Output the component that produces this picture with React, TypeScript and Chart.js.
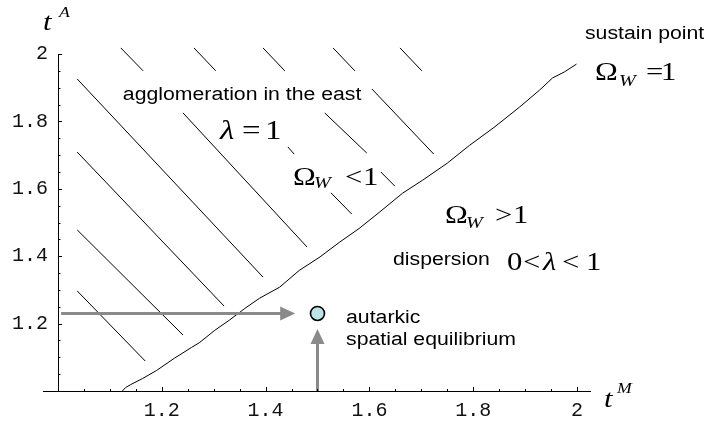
import React, { useEffect, useRef } from 'react';
import { Chart, registerables } from 'chart.js';
Chart.register(...registerables);

// ---------- data ----------
const xTickValues = [1.2, 1.4, 1.6, 1.8, 2];
const yTickValues = [1.2, 1.4, 1.6, 1.8, 2];
const minorTickValues = [1.05, 1.1, 1.15, 1.25, 1.3, 1.35, 1.45, 1.5, 1.55, 1.65, 1.7, 1.75, 1.85, 1.9, 1.95];

// sustain point curve (Omega_W = 1)
const sustainX = [1.124, 1.130, 1.140, 1.163, 1.190, 1.224, 1.257, 1.273, 1.302, 1.330, 1.360, 1.388, 1.427, 1.465, 1.505, 1.542, 1.580, 1.619, 1.664, 1.702, 1.750, 1.793, 1.840, 1.889, 1.928, 1.953, 1.976, 1.999];
const sustainY = [1.000, 1.010, 1.019, 1.037, 1.061, 1.097, 1.129, 1.144, 1.180, 1.210, 1.245, 1.275, 1.308, 1.358, 1.398, 1.441, 1.482, 1.530, 1.587, 1.625, 1.676, 1.729, 1.782, 1.842, 1.893, 1.929, 1.947, 1.970];

// hatching segments (start / end), pieces left visible around the labels
const hatchX1 = [1.037, 1.037, 1.037, 1.037, 1.121, 1.241, 1.262, 1.443, 1.526, 1.395, 1.514, 1.622, 1.530, 1.605, 1.659];
const hatchY1 = [1.926, 1.709, 1.478, 1.297, 2.018, 1.825, 2.018, 1.724, 1.588, 2.018, 1.825, 1.650, 2.018, 1.896, 2.018];
const hatchX2 = [1.395, 1.320, 1.241, 1.168, 1.164, 1.480, 1.304, 1.455, 1.566, 1.437, 1.595, 1.649, 1.572, 1.724, 1.701];
const hatchY2 = [1.338, 1.252, 1.166, 1.089, 1.950, 1.427, 1.950, 1.703, 1.525, 1.950, 1.706, 1.608, 1.950, 1.703, 1.950];

// autarkic spatial equilibrium
const equilibriumX = [1.5];
const equilibriumY = [1.23];
const arrowHFrom = [1.006, 1.23];
const arrowHTip = [1.457, 1.23];
const arrowVFrom = [1.5, 1.0];
const arrowVTip = [1.5, 1.184];

const SX = 1.18;
const SERIF = "'Liberation Serif', 'Times New Roman', serif";
const SANS = "'Liberation Sans', Arial, sans-serif";
const MONO = "'Liberation Mono', 'Courier New', monospace";

type Run = { t: string; f: string; dx: number; dy?: number };
type Label = { x: number; y: number; runs: Run[] };

const sans18 = `18px ${SANS}`;
const ser26 = `26px ${SERIF}`;
const ser26i = `italic 26px ${SERIF}`;
const ser28 = `28px ${SERIF}`;
const ser28i = `italic 28px ${SERIF}`;
const sub17 = `italic 17px ${SERIF}`;
const sup15 = `italic 15px ${SERIF}`;

const labels: Label[] = [
  { x: 1.125, y: 1.8635, runs: [{ t: 'agglomeration in the east', f: sans18, dx: 0 }] },
  { x: 2.0154, y: 2.0445, runs: [{ t: 'sustain point', f: sans18, dx: 0 }] },
  { x: 1.555, y: 1.2018, runs: [{ t: 'autarkic', f: sans18, dx: 0 }] },
  { x: 1.555, y: 1.1365, runs: [{ t: 'spatial equilibrium', f: sans18, dx: 0 }] },
  { x: 1.6455, y: 1.374, runs: [{ t: 'dispersion', f: sans18, dx: 0 }] },
  { x: 1.3121, y: 1.7478, runs: [
    { t: 'λ', f: ser28i, dx: 0 }, { t: '=', f: ser28, dx: 22 }, { t: '1', f: ser28, dx: 45 }] },
  { x: 1.4528, y: 1.6113, runs: [
    { t: 'Ω', f: ser26, dx: 0 }, { t: 'W', f: sub17, dx: 21, dy: 3 }, { t: '<', f: ser26, dx: 52 }, { t: '1', f: ser26, dx: 70 }] },
  { x: 1.7457, y: 1.4985, runs: [
    { t: 'Ω', f: ser26, dx: 0 }, { t: 'W', f: sub17, dx: 21, dy: 5 }, { t: '>', f: ser26, dx: 50 }, { t: '1', f: ser26, dx: 68 }] },
  { x: 2.0347, y: 1.9228, runs: [
    { t: 'Ω', f: ser26, dx: 0 }, { t: 'W', f: sub17, dx: 24, dy: 6 }, { t: '=', f: ser26, dx: 51 }, { t: '1', f: ser26, dx: 66 }] },
  { x: 1.8651, y: 1.359, runs: [
    { t: '0', f: ser26, dx: 0 }, { t: '<', f: ser26, dx: 16 }, { t: 'λ', f: ser26i, dx: 36 }, { t: '<', f: ser26, dx: 55 }, { t: '1', f: ser26, dx: 79 }] },
  { x: 0.971, y: 2.0712, runs: [{ t: 't', f: ser26i, dx: 0 }, { t: 'A', f: sup15, dx: 16, dy: -13 }] },
  { x: 2.052, y: 0.9525, runs: [{ t: 't', f: ser26i, dx: 0 }, { t: 'M', f: sup15, dx: 13, dy: -14 }] },
];

const xAxisStart = 0.971;

function hatchData() {
  const pts: { x: number; y: number | null }[] = [];
  for (let i = 0; i < hatchX1.length; i++) {
    pts.push({ x: hatchX1[i], y: hatchY1[i] });
    pts.push({ x: hatchX2[i], y: hatchY2[i] });
    pts.push({ x: hatchX2[i], y: null });
  }
  return pts;
}

const decorPlugin = {
  id: 'decor',
  afterDatasetsDraw(chart: any) {
    const ctx = chart.ctx as CanvasRenderingContext2D;
    const xs = chart.scales.x;
    const ys = chart.scales.y;
    const px = (v: number) => xs.getPixelForValue(v);
    const py = (v: number) => ys.getPixelForValue(v);
    ctx.save();
    // axes
    ctx.strokeStyle = '#000';
    ctx.lineWidth = 1;
    ctx.beginPath();
    ctx.moveTo(px(xAxisStart), Math.round(py(1)) + 0.5);
    ctx.lineTo(xs.right, Math.round(py(1)) + 0.5);
    ctx.moveTo(Math.round(px(1)) + 0.5, Math.round(py(1)) + 0.5);
    ctx.lineTo(Math.round(px(1)) + 0.5, py(2));
    // ticks (inside)
    for (const v of yTickValues) {
      const y = Math.round(py(v)) + 0.5;
      ctx.moveTo(px(1), y);
      ctx.lineTo(px(1) + 4, y);
    }
    for (const v of minorTickValues) {
      const y = Math.round(py(v)) + 0.5;
      ctx.moveTo(px(1), y);
      ctx.lineTo(px(1) + 2.5, y);
    }
    for (const v of xTickValues) {
      const x = Math.round(px(v)) + 0.5;
      ctx.moveTo(x, py(1));
      ctx.lineTo(x, py(1) - 4);
    }
    for (const v of minorTickValues) {
      const x = Math.round(px(v)) + 0.5;
      ctx.moveTo(x, py(1));
      ctx.lineTo(x, py(1) - 2);
    }
    ctx.stroke();

    // arrow heads
    ctx.fillStyle = '#8a8a8a';
    const hx = px(arrowHTip[0]), hy = py(arrowHTip[1]);
    ctx.beginPath();
    ctx.moveTo(hx, hy);
    ctx.lineTo(hx - 15, hy - 7);
    ctx.lineTo(hx - 15, hy + 7);
    ctx.closePath();
    ctx.fill();
    const vx = px(arrowVTip[0]), vy = py(arrowVTip[1]);
    ctx.beginPath();
    ctx.moveTo(vx, vy);
    ctx.lineTo(vx - 7, vy + 15);
    ctx.lineTo(vx + 7, vy + 15);
    ctx.closePath();
    ctx.fill();

    // text labels
    ctx.fillStyle = '#000';
    ctx.textAlign = 'left';
    ctx.textBaseline = 'alphabetic';
    for (const lab of labels) {
      const x0 = px(lab.x);
      const y0 = py(lab.y);
      for (const r of lab.runs) {
        ctx.save();
        ctx.font = r.f;
        ctx.translate(x0 + r.dx, y0 + (r.dy || 0));
        ctx.scale(SX, 1);
        ctx.fillText(r.t, 0, 0);
        ctx.restore();
      }
    }
    ctx.restore();
  },
};

export default function App() {
  const ref = useRef<HTMLCanvasElement | null>(null);
  useEffect(() => {
    if (!ref.current) return;
    const chart = new Chart(ref.current, {
      type: 'scatter',
      data: {
        datasets: [
          {
            label: 'equilibrium',
            data: equilibriumX.map((x, i) => ({ x, y: equilibriumY[i] })),
            pointRadius: 7,
            pointBackgroundColor: '#bfe2e6',
            pointBorderColor: '#000',
            pointBorderWidth: 1.6,
            showLine: false,
          } as any,
          {
            type: 'line',
            label: 'arrowH',
            data: [
              { x: arrowHFrom[0], y: arrowHFrom[1] },
              { x: arrowHTip[0] - 0.02, y: arrowHTip[1] },
            ],
            borderColor: '#8a8a8a',
            borderWidth: 3,
            pointRadius: 0,
          } as any,
          {
            type: 'line',
            label: 'arrowV',
            data: [
              { x: arrowVFrom[0], y: arrowVFrom[1] },
              { x: arrowVTip[0], y: arrowVTip[1] - 0.03 },
            ],
            borderColor: '#8a8a8a',
            borderWidth: 3,
            pointRadius: 0,
          } as any,
          {
            type: 'line',
            label: 'sustain',
            data: sustainX.map((x, i) => ({ x, y: sustainY[i] })),
            borderColor: '#000',
            borderWidth: 1,
            pointRadius: 0,
            tension: 0,
            clip: false,
          } as any,
          {
            type: 'line',
            label: 'hatch',
            data: hatchData(),
            borderColor: '#000',
            borderWidth: 1,
            pointRadius: 0,
            spanGaps: false,
            clip: false,
          } as any,
        ],
      },
      options: {
        animation: false,
        responsive: false,
        events: [],
        layout: { padding: { left: 0, right: 116, top: 54, bottom: 0 } },
        plugins: { legend: { display: false }, tooltip: { enabled: false } },
        scales: {
          x: {
            type: 'linear',
            min: 1,
            max: 2.027,
            grid: { display: false, drawTicks: false },
            border: { display: false },
            afterBuildTicks: (s: any) => { s.ticks = xTickValues.map((v) => ({ value: v })); },
            afterFit: (s: any) => { s.height = 35; },
            ticks: {
              color: '#111',
              padding: 8,
              font: { family: MONO, size: 20 },
              callback: (v: any) => (Number(v) === 2 ? '2' : Number(v).toFixed(1)),
            },
          },
          y: {
            type: 'linear',
            min: 1,
            max: 2,
            grid: { display: false, drawTicks: false },
            border: { display: false },
            afterBuildTicks: (s: any) => { s.ticks = yTickValues.map((v) => ({ value: v })); },
            afterFit: (s: any) => { s.width = 58; },
            ticks: {
              color: '#111',
              padding: 10,
              font: { family: MONO, size: 20 },
              callback: (v: any) => (Number(v) === 2 ? '2' : Number(v).toFixed(1)),
            },
          },
        },
      },
      plugins: [decorPlugin],
    });
    return () => chart.destroy();
  }, []);
  return (
    <div style={{ position: 'absolute', left: 0, top: 0, width: 707, height: 426, background: '#fff' }}>
      <canvas ref={ref} width={707} height={426} style={{ width: 707, height: 426, display: 'block' }} />
    </div>
  );
}
